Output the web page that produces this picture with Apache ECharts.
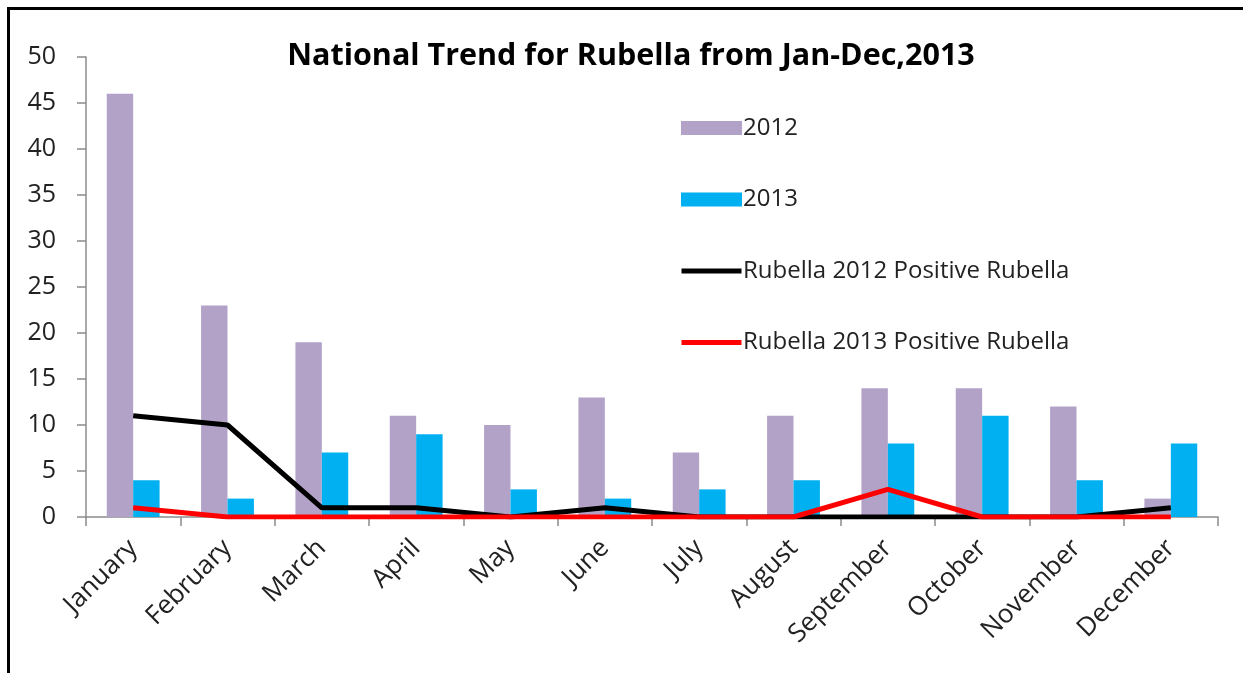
<!DOCTYPE html>
<html>
<head>
<meta charset="utf-8">
<title>National Trend for Rubella</title>
<script src="https://cdn.jsdelivr.net/npm/echarts@6/dist/echarts.min.js"></script>
<style>
  html, body { margin: 0; padding: 0; background: #fff; }
  #chart { width: 1243px; height: 673px; }
</style>
</head>
<body>
<div id="chart"></div>
<script>
// Monthly rubella figures
const months = ['January', 'February', 'March', 'April', 'May', 'June',
  'July', 'August', 'September', 'October', 'November', 'December'];
const cases2012 = [46, 23, 19, 11, 10, 13, 7, 11, 14, 14, 12, 2];
const cases2013 = [4, 2, 7, 9, 3, 2, 3, 4, 8, 11, 4, 8];
const positive2012 = [11, 10, 1, 1, 0, 1, 0, 0, 0, 0, 0, 1];
const positive2013 = [1, 0, 0, 0, 0, 0, 0, 0, 3, 0, 0, 0];
const yTicks = { min: 0, max: 50, interval: 5 };

const fontFamily = '"Open Sans", "Noto Sans", sans-serif';
const textColor = '#222222';
const axisGray = '#8c8c8c';

// thick horizontal stroke used as the legend key of the line series
const lineKey = 'path://M0,0 L0,0 M0,4.5 L60,4.5 L60,9.5 L0,9.5 Z M60,14 L60,14';

const chart = echarts.init(document.getElementById('chart'), null, { renderer: 'canvas' });

chart.setOption({
  animation: false,
  backgroundColor: '#ffffff',
  title: {
    text: 'National Trend for Rubella from Jan-Dec,2013',
    left: 626,
    textAlign: 'center',
    top: 36,
    textStyle: { fontFamily, fontSize: 30.5, fontWeight: 'bold', color: '#000' }
  },
  legend: {
    orient: 'vertical',
    left: 676,
    top: 111,
    itemWidth: 61,
    itemHeight: 14,
    itemGap: 47.5,
    textStyle: { fontFamily, fontSize: 24, color: textColor, padding: [0, 0, 0, -4] },
    data: [
      { name: '2012', icon: 'rect' },
      { name: '2013', icon: 'rect' },
      { name: 'Rubella 2012 Positive Rubella', icon: lineKey },
      { name: 'Rubella 2013 Positive Rubella', icon: lineKey }
    ]
  },
  grid: { left: 86, right: 25, top: 57, bottom: 156, containLabel: false },
  xAxis: {
    type: 'category',
    data: months,
    axisLine: { lineStyle: { color: axisGray, width: 1.5 } },
    axisTick: { show: true, length: 9, lineStyle: { color: axisGray, width: 1.5 } },
    axisLabel: {
      rotate: 45,
      interval: 0,
      margin: 27,
      fontFamily,
      fontSize: 26,
      color: textColor
    }
  },
  yAxis: {
    type: 'value',
    min: yTicks.min,
    max: yTicks.max,
    interval: yTicks.interval,
    axisLine: { show: true, lineStyle: { color: axisGray, width: 1.5 } },
    axisTick: { show: true, length: 9, lineStyle: { color: axisGray, width: 1.5 } },
    splitLine: { show: false },
    axisLabel: { margin: 30, fontFamily, fontSize: 25, color: textColor }
  },
  series: [
    {
      name: '2012',
      type: 'bar',
      data: cases2012,
      barGap: '0%',
      barCategoryGap: '44%',
      itemStyle: { color: '#B3A2C7' }
    },
    {
      name: '2013',
      type: 'bar',
      data: cases2013,
      itemStyle: { color: '#00B0F0' }
    },
    {
      name: 'Rubella 2012 Positive Rubella',
      type: 'line',
      data: positive2012,
      symbol: 'none',
      lineStyle: { color: '#000000', width: 5 },
      itemStyle: { color: '#000000' },
      z: 3
    },
    {
      name: 'Rubella 2013 Positive Rubella',
      type: 'line',
      data: positive2013,
      symbol: 'none',
      lineStyle: { color: '#FF0000', width: 5 },
      itemStyle: { color: '#FF0000' },
      z: 4
    }
  ],
  graphic: [
    {
      type: 'rect',
      silent: true,
      shape: { x: 8.5, y: 8.5, width: 1400, height: 900 },
      style: { fill: 'none', stroke: '#000000', lineWidth: 3 },
      z: 100
    }
  ]
});
</script>
</body>
</html>
